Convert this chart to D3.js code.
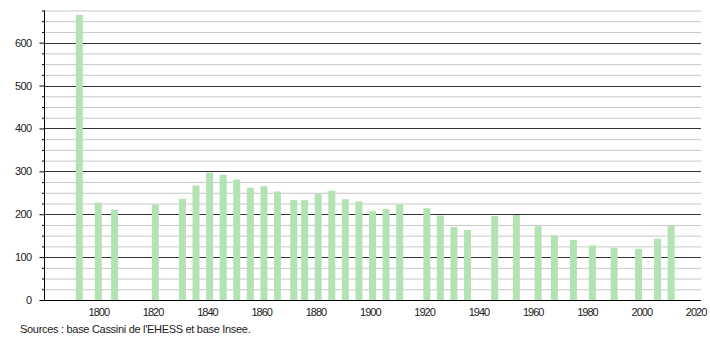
<!DOCTYPE html>
<html><head><meta charset="utf-8">
<script src="https://cdn.jsdelivr.net/npm/d3@7"></script>
<style>body{margin:0;background:#fff;}svg{display:block;font-family:"Liberation Sans",Arial,sans-serif;}</style>
</head><body>
<svg id="c" width="710" height="340"></svg>
<script>
const years = [1793,1800,1806,1821,1831,1836,1841,1846,1851,1856,1861,1866,1872,1876,1881,1886,1891,1896,1901,1906,1911,1921,1926,1931,1936,1946,1954,1962,1968,1975,1982,1990,1999,2006,2011];
const population = [665,227,211,223,236,267,297,292,281,262,265,253,233,233,248,255,235,230,207,212,223,214,197,170,163,196,198,172,151,140,127,122,119,143,173];
const xTicks = [1800,1820,1840,1860,1880,1900,1920,1940,1960,1980,2000,2020];
const yTicks = [0,100,200,300,400,500,600];
const sourceText = "Sources : base Cassini de l'EHESS et base Insee.";

const svg = d3.select("#c");
const L = 44, R = 701, T = 10.5, B = 300;
const x = d3.scaleLinear().domain([1780, 2022]).range([L, R]);
const y = d3.scaleLinear().domain([0, 675]).range([B, T]);

// minor grid
const minor = d3.range(25, 700, 25).filter(v => v % 100 !== 0);
svg.append("g").selectAll("line").data(minor).join("line")
  .attr("x1", L).attr("x2", R).attr("y1", d => y(d)+0.5).attr("y2", d => y(d)+0.5)
  .attr("stroke", "#c8c8c8").attr("stroke-width", 1);
// major grid
svg.append("g").selectAll("line").data(yTicks.filter(v => v > 0)).join("line")
  .attr("x1", L).attr("x2", R).attr("y1", d => Math.round(y(d))+0.5).attr("y2", d => Math.round(y(d))+0.5)
  .attr("stroke", "#333").attr("stroke-width", 1);

// bars
const bw = 7;
svg.append("g").selectAll("rect").data(years).join("rect")
  .attr("x", (d) => x(d) - bw/2)
  .attr("y", (d, i) => y(population[i]))
  .attr("width", bw)
  .attr("height", (d, i) => B - y(population[i]))
  .attr("fill", "#b3e3b3");

// y axis
const yAxis = d3.axisLeft(y).tickValues(yTicks).tickSize(5).tickPadding(8);
const gy = svg.append("g").attr("transform", `translate(${L+0.5},0)`).call(yAxis);
gy.select(".domain").attr("d", `M0,${T}V${B}`).attr("stroke", "#000");
gy.selectAll(".tick text").attr("font-size", 11).attr("fill", "#222").attr("letter-spacing", "-0.6px");
gy.selectAll(".tick line").attr("stroke", "#000");
const gyMinor = svg.append("g").attr("transform", `translate(${L+0.5},0)`);
gyMinor.selectAll("line").data(minor).join("line")
  .attr("x1", -2.5).attr("x2", 0).attr("y1", d => y(d)+0.5).attr("y2", d => y(d)+0.5).attr("stroke", "#000");

// x axis
const xAxis = d3.axisBottom(x).tickValues(xTicks).tickSize(0).tickPadding(8).tickFormat(d3.format("d"));
const gx = svg.append("g").attr("transform", `translate(0,${B+0.5})`).call(xAxis);
gx.select(".domain").attr("d", `M${L},0H${R}`).attr("stroke", "#000");
gx.selectAll(".tick text").attr("font-size", 11).attr("fill", "#222").attr("letter-spacing", "-1px");

svg.append("text").attr("x", 20).attr("y", 333).attr("font-size", 11).attr("fill", "#222")
  .attr("letter-spacing", "-0.3px").text(sourceText);
</script>
</body></html>
